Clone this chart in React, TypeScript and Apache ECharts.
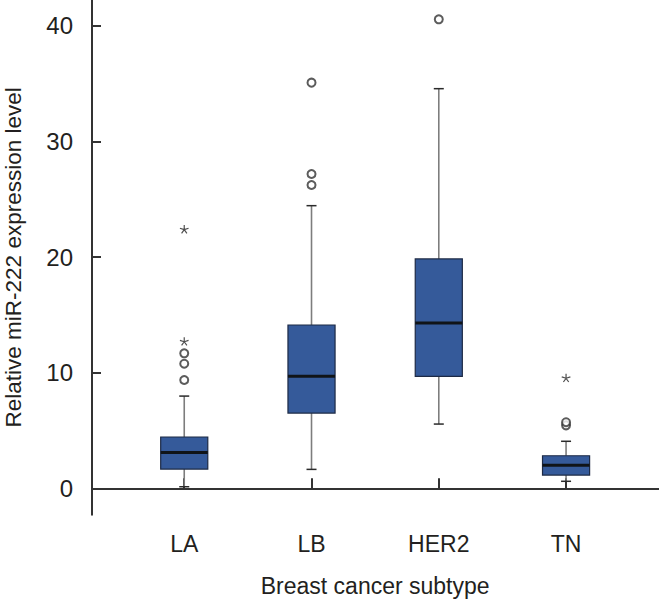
import React, { useEffect, useRef } from "react";
import * as echarts from "echarts";

const categories = ["LA", "LB", "HER2", "TN"];
const whiskerLow = [0.14, 1.64, 5.56, 0.61];
const quartile1 = [1.67, 6.51, 9.69, 1.15];
const medians = [3.11, 9.69, 14.3, 1.99];
const quartile3 = [4.44, 14.13, 19.84, 2.82];
const whiskerHigh = [7.98, 24.45, 34.57, 4.07];
// [category index, value]
const circleOutliers = [
  [0, 9.37], [0, 10.78], [0, 11.68],
  [1, 26.24], [1, 27.19], [1, 35.09],
  [2, 40.57],
  [3, 5.45], [3, 5.72],
];
const starOutliers = [[0, 12.7], [0, 22.4], [3, 9.54]];
const yTickValues = [0, 10, 20, 30, 40];

const Y_MIN = -2.28;
const Y_MAX = 42.24;
const FONT = "'Liberation Sans', Arial, Helvetica, sans-serif";
const TEXT = "#231f20";
const AXIS = "#333333";

function starPath(): string {
  const w = 0.13;
  let d = "";
  for (let k = 0; k < 5; k++) {
    const a = ((-90 + 72 * k) * Math.PI) / 180;
    const dx = Math.cos(a), dy = Math.sin(a);
    const nx = -dy, ny = dx;
    const p = (x: number, y: number) => `${(x * 10).toFixed(3)} ${(y * 10).toFixed(3)}`;
    d += `M${p(w * nx, w * ny)} L${p(dx + w * nx, dy + w * ny)} L${p(dx - w * nx, dy - w * ny)} L${p(-w * nx, -w * ny)} Z `;
  }
  return "path://" + d.trim();
}

export default function App() {
  const ref = useRef<HTMLDivElement>(null);
  useEffect(() => {
    if (!ref.current) return;
    const chart = echarts.init(ref.current, undefined, { renderer: "svg" });
    const boxData = categories.map((_, i) => [
      i, whiskerLow[i], quartile1[i], medians[i], quartile3[i], whiskerHigh[i],
    ]);
    const option: any = {
      animation: false,
      backgroundColor: "#ffffff",
      textStyle: { fontFamily: FONT },
      grid: [
        { left: 120.6, right: 29.3, top: 0, bottom: 89.3, containLabel: false, outerBoundsMode: "none" },
        { left: 92, right: 0, top: 0, bottom: 89.3, containLabel: false, outerBoundsMode: "none" },
      ],
      xAxis: [
        {
          type: "category",
          gridIndex: 0,
          data: categories,
          boundaryGap: true,
          axisLine: { show: false },
          axisTick: { show: true, inside: true, length: 10, alignWithLabel: true, lineStyle: { color: AXIS, width: 2 } },
          axisLabel: { color: TEXT, fontSize: 23, margin: 18, fontFamily: FONT },
          splitLine: { show: false },
          name: "Breast cancer subtype",
          nameLocation: "middle",
          nameGap: 60,
          nameTextStyle: { color: TEXT, fontSize: 23, fontFamily: FONT },
        },
        {
          type: "value",
          gridIndex: 1,
          min: 0,
          max: 1,
          axisLine: { show: true, lineStyle: { color: AXIS, width: 2 } },
          axisTick: { show: false },
          axisLabel: { show: false },
          splitLine: { show: false },
        },
      ],
      yAxis: [
        {
          type: "value",
          gridIndex: 0,
          min: Y_MIN,
          max: Y_MAX,
          show: false,
          splitLine: { show: false },
        },
        {
          type: "value",
          gridIndex: 1,
          min: Y_MIN,
          max: Y_MAX,
          axisLine: { show: true, lineStyle: { color: AXIS, width: 2 } },
          axisTick: { show: true, inside: true, length: 9, customValues: yTickValues, lineStyle: { color: AXIS, width: 2 } },
          axisLabel: { show: true, customValues: yTickValues, color: TEXT, fontSize: 24, margin: 19, fontFamily: FONT },
          splitLine: { show: false },
          name: "Relative miR-222 expression level",
          nameLocation: "middle",
          nameGap: 67,
          nameTextStyle: { color: TEXT, fontSize: 22.5, fontFamily: FONT },
        },
      ],
      series: [
        {
          type: "custom",
          xAxisIndex: 0,
          yAxisIndex: 0,
          data: boxData,
          encode: { x: 0, y: [1, 2, 3, 4, 5] },
          renderItem: (params: any, api: any) => {
            const xi = api.value(0);
            const pLow = api.coord([xi, api.value(1)]);
            const pQ1 = api.coord([xi, api.value(2)]);
            const pMed = api.coord([xi, api.value(3)]);
            const pQ3 = api.coord([xi, api.value(4)]);
            const pHigh = api.coord([xi, api.value(5)]);
            const band = api.size([1, 0])[0];
            const half = (band * 0.37) / 2;
            const cap = 5;
            const cx = pMed[0];
            const whiskerStyle = { stroke: "#7d7d7d", lineWidth: 1.6 };
            const capStyle = { stroke: "#2a2a2a", lineWidth: 1.5 };
            return {
              type: "group",
              children: [
                { type: "line", shape: { x1: cx, y1: pHigh[1], x2: cx, y2: pQ3[1] }, style: whiskerStyle },
                { type: "line", shape: { x1: cx, y1: pQ1[1], x2: cx, y2: pLow[1] }, style: whiskerStyle },
                { type: "line", shape: { x1: cx - cap, y1: pHigh[1], x2: cx + cap, y2: pHigh[1] }, style: capStyle },
                { type: "line", shape: { x1: cx - cap, y1: pLow[1], x2: cx + cap, y2: pLow[1] }, style: capStyle },
                {
                  type: "rect",
                  shape: { x: cx - half, y: pQ3[1], width: half * 2, height: pQ1[1] - pQ3[1] },
                  style: { fill: "#355a9a", stroke: "#1d2a45", lineWidth: 1.2 },
                },
                { type: "line", shape: { x1: cx - half, y1: pMed[1], x2: cx + half, y2: pMed[1] }, style: { stroke: "#101418", lineWidth: 3 } },
              ],
            };
          },
          z: 2,
        },
        {
          type: "scatter",
          xAxisIndex: 0,
          yAxisIndex: 0,
          data: circleOutliers,
          symbol: "emptyCircle",
          symbolSize: 8,
          itemStyle: { color: "#333333", borderWidth: 1.2 },
          z: 3,
        },
        {
          type: "scatter",
          xAxisIndex: 0,
          yAxisIndex: 0,
          data: starOutliers,
          symbol: starPath(),
          symbolSize: [9, 8.6],
          itemStyle: { color: "#222222" },
          z: 3,
        },
      ],
    };
    chart.setOption(option);
    return () => chart.dispose();
  }, []);
  return (
    <div
      ref={ref}
      style={{ position: "fixed", left: 0, top: 0, width: 659, height: 604, background: "#fff" }}
    />
  );
}
